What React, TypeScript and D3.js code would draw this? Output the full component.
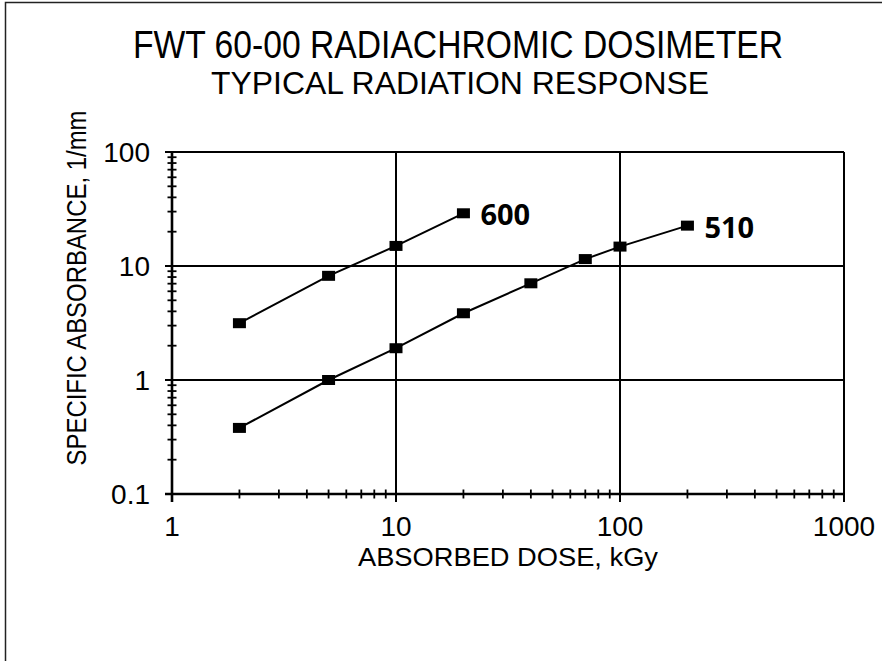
import * as d3 from 'd3';
import { useEffect, useRef } from 'react';

// absorbed dose (kGy) and specific absorbance (1/mm)
const dose600 = [2, 5, 10, 20];
const abs600 = [3.15, 8.2, 15, 29];
const dose510 = [2, 5, 10, 20, 40, 70, 100, 200];
const abs510 = [0.38, 1.0, 1.9, 3.85, 7.05, 11.5, 14.8, 22.6];

const xTickLabels = ['1', '10', '100', '1000'];
const yTickLabels = ['0.1', '1', '10', '100'];

const WIDTH = 882;
const HEIGHT = 661;
const FONT = "'Liberation Sans', Arial, sans-serif";

export default function App() {
  const svgRef = useRef<SVGSVGElement>(null);

  useEffect(() => {
    if (!svgRef.current) return;
    const svg = d3.select(svgRef.current);
    svg.selectAll('*').remove();

    const margin = { top: 152, right: 38, bottom: 167, left: 172 };
    const x = d3
      .scaleLog()
      .domain([1, 1000])
      .range([margin.left, WIDTH - margin.right]);
    const y = d3
      .scaleLog()
      .domain([0.1, 100])
      .range([HEIGHT - margin.bottom, margin.top]);

    const [x0, x1] = x.range();
    const [y0, y1] = y.range();

    // outer frame (only top and left edges are inside the picture)
    svg
      .append('rect')
      .attr('x', 5.5)
      .attr('y', 2.5)
      .attr('width', 1000)
      .attr('height', 1000)
      .attr('fill', 'none')
      .attr('stroke', '#222')
      .attr('stroke-width', 1.5);

    // titles
    svg
      .append('text')
      .attr('x', 458)
      .attr('y', 58)
      .attr('text-anchor', 'middle')
      .attr('textLength', 650)
      .attr('lengthAdjust', 'spacingAndGlyphs')
      .style('font-family', FONT)
      .style('font-size', '38px')
      .text('FWT 60-00 RADIACHROMIC DOSIMETER');

    svg
      .append('text')
      .attr('x', 460)
      .attr('y', 94)
      .attr('text-anchor', 'middle')
      .attr('textLength', 498)
      .attr('lengthAdjust', 'spacingAndGlyphs')
      .style('font-family', FONT)
      .style('font-size', '32px')
      .text('TYPICAL RADIATION RESPONSE');

    const isMajor = (v: number) => Math.abs(Math.log10(v) - Math.round(Math.log10(v))) < 1e-9;
    const xTicks = x.ticks();
    const yTicks = y.ticks();

    // minor ticks crossing the axes
    svg
      .append('g')
      .selectAll('line')
      .data(xTicks.filter((d) => !isMajor(d)))
      .enter()
      .append('line')
      .attr('x1', (d) => x(d))
      .attr('x2', (d) => x(d))
      .attr('y1', y0 - 4.5)
      .attr('y2', y0 + 4.5)
      .attr('stroke', '#000')
      .attr('stroke-width', 1.8);

    svg
      .append('g')
      .selectAll('line')
      .data(yTicks.filter((d) => !isMajor(d)))
      .enter()
      .append('line')
      .attr('x1', x0 - 4.5)
      .attr('x2', x0 + 4.5)
      .attr('y1', (d) => y(d))
      .attr('y2', (d) => y(d))
      .attr('stroke', '#000')
      .attr('stroke-width', 1.8);

    // major gridlines, extending out past the axes as ticks
    const xMajor = xTicks.filter(isMajor);
    const yMajor = yTicks.filter(isMajor);

    svg
      .append('g')
      .selectAll('line')
      .data(yMajor)
      .enter()
      .append('line')
      .attr('x1', x0 - 7)
      .attr('x2', x1)
      .attr('y1', (d) => y(d))
      .attr('y2', (d) => y(d))
      .attr('stroke', '#000')
      .attr('stroke-width', (d) => (d === 0.1 ? 2.6 : 2));

    svg
      .append('g')
      .selectAll('line')
      .data(xMajor)
      .enter()
      .append('line')
      .attr('x1', (d) => x(d))
      .attr('x2', (d) => x(d))
      .attr('y1', y1)
      .attr('y2', y0 + 8)
      .attr('stroke', '#000')
      .attr('stroke-width', (d) => (d === 1 ? 2.6 : 2));

    // tick labels
    svg
      .append('g')
      .selectAll('text')
      .data(xMajor)
      .enter()
      .append('text')
      .attr('x', (d) => x(d))
      .attr('y', y0 + 42)
      .attr('text-anchor', 'middle')
      .style('font-family', FONT)
      .style('font-size', '28px')
      .text((d, i) => xTickLabels[i]);

    svg
      .append('g')
      .selectAll('text')
      .data(yMajor)
      .enter()
      .append('text')
      .attr('x', x0 - 22)
      .attr('y', (d) => y(d) + 10)
      .attr('text-anchor', 'end')
      .style('font-family', FONT)
      .style('font-size', '28px')
      .text((d, i) => yTickLabels[i]);

    // axis labels
    svg
      .append('text')
      .attr('x', (x0 + x1) / 2)
      .attr('y', 566)
      .attr('text-anchor', 'middle')
      .attr('textLength', 300)
      .attr('lengthAdjust', 'spacingAndGlyphs')
      .style('font-family', FONT)
      .style('font-size', '26px')
      .text('ABSORBED DOSE, kGy');

    svg
      .append('text')
      .attr('transform', `translate(86,288)rotate(-90)`)
      .attr('text-anchor', 'middle')
      .attr('textLength', 355)
      .attr('lengthAdjust', 'spacingAndGlyphs')
      .style('font-family', FONT)
      .style('font-size', '27px')
      .text('SPECIFIC ABSORBANCE, 1/mm');

    // series
    const series = [
      { name: '600', dose: dose600, abs: abs600 },
      { name: '510', dose: dose510, abs: abs510 },
    ];

    const line = d3
      .line<[number, number]>()
      .x((d) => x(d[0]))
      .y((d) => y(d[1]));

    series.forEach((s) => {
      const pts = s.dose.map((d, i) => [d, s.abs[i]] as [number, number]);

      svg
        .append('path')
        .datum(pts)
        .attr('fill', 'none')
        .attr('stroke', '#000')
        .attr('stroke-width', 2)
        .attr('d', line);

      svg
        .append('g')
        .selectAll('rect')
        .data(pts)
        .enter()
        .append('rect')
        .attr('x', (d) => x(d[0]) - 6.5)
        .attr('y', (d) => y(d[1]) - 5)
        .attr('width', 13)
        .attr('height', 10)
        .attr('fill', '#000');

      const last = pts[pts.length - 1];
      svg
        .append('text')
        .attr('x', x(last[0]) + 17)
        .attr('y', y(last[1]) + 12)
        .style('font-family', "'Open Sans', 'Noto Sans', sans-serif")
        .style('font-weight', 'bold')
        .style('font-size', '29px')
        .text(s.name);
    });
  }, []);

  return (
    <div style={{ position: 'absolute', left: 0, top: 0 }}>
      <svg ref={svgRef} width={WIDTH} height={HEIGHT} style={{ display: 'block', background: '#fff' }} />
    </div>
  );
}
